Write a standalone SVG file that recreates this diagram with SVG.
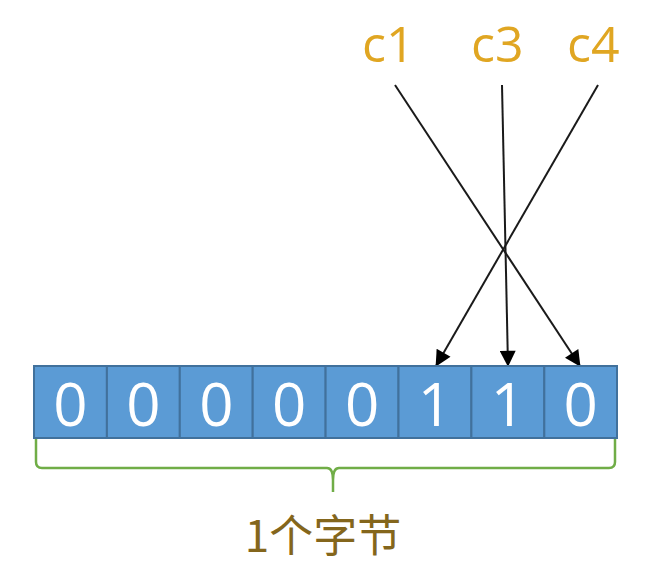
<svg xmlns="http://www.w3.org/2000/svg" width="662" height="569" viewBox="0 0 662 569">
<defs>
<style>
.cell{fill:#5B9BD5;stroke:#41719C;stroke-width:2}
.bit{font-family:"Open Sans","Noto Sans","Liberation Sans",sans-serif;font-size:60px;fill:#ffffff;text-anchor:middle}
.lbl{font-family:"Open Sans","Noto Sans","Liberation Sans",sans-serif;font-size:50px;fill:#E0A622}
.conn{stroke:#1a1a1a;stroke-width:2;fill:none;marker-end:url(#ah)}
</style>
<marker id="ah" viewBox="0 0 10 10" refX="9.5" refY="5" markerWidth="18" markerHeight="16" markerUnits="userSpaceOnUse" orient="auto">
<path d="M0,0 L10,5 L0,10 z" fill="#000"/>
</marker>
</defs>
<rect width="662" height="569" fill="#ffffff"/>
<g id="labels">
<text class="lbl" x="362" y="62">c1</text>
<text class="lbl" x="471" y="62">c3</text>
<text class="lbl" x="567" y="62">c4</text>
</g>
<g id="connectors">
<path class="conn" d="M395,85 L580,366"/>
<path class="conn" d="M502,85 L508,366"/>
<path class="conn" d="M598,85 L436,366"/>
</g>
<g id="byte">
<rect class="cell" x="34" y="366" width="72.9" height="72"/>
<rect class="cell" x="106.9" y="366" width="72.9" height="72"/>
<rect class="cell" x="179.8" y="366" width="72.9" height="72"/>
<rect class="cell" x="252.7" y="366" width="72.9" height="72"/>
<rect class="cell" x="325.6" y="366" width="72.9" height="72"/>
<rect class="cell" x="398.5" y="366" width="72.9" height="72"/>
<rect class="cell" x="471.4" y="366" width="72.9" height="72"/>
<rect class="cell" x="544.3" y="366" width="72.7" height="72"/>
<text class="bit" x="70.5" y="426">0</text>
<text class="bit" x="143.4" y="426">0</text>
<text class="bit" x="216.3" y="426">0</text>
<text class="bit" x="289.2" y="426">0</text>
<text class="bit" x="362.1" y="426">0</text>
<text class="bit" x="435" y="426">1</text>
<text class="bit" x="507.9" y="426">1</text>
<text class="bit" x="580.7" y="426">0</text>
</g>
<g id="brace">
<path d="M36,439 L36,462 Q36,468 42,468 L327,468 Q333,468 333,480 L333,492 M333,480 Q333,468 339,468 L609,468 Q615,468 615,462 L615,439" fill="none" stroke="#70AD47" stroke-width="2.5"/>
</g>
<g id="caption">
<text x="323" y="552" text-anchor="middle" font-family="'Noto Sans CJK SC',sans-serif" font-size="44" fill="#84661C">1个字节</text>
</g>
</svg>
